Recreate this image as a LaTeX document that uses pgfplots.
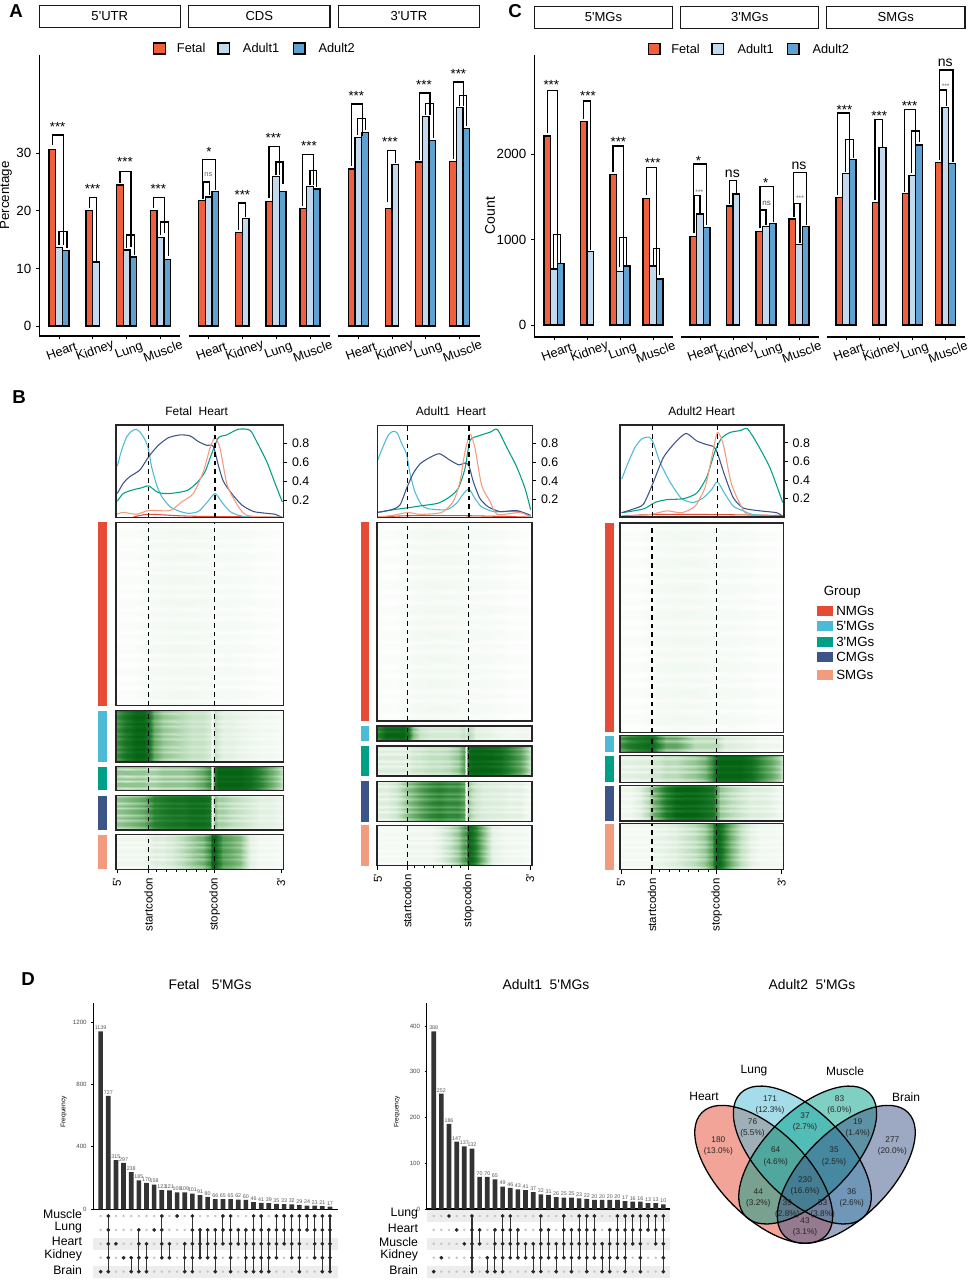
\documentclass[border=0pt]{standalone}
\usepackage{fontspec}
\setmainfont{Liberation Sans}[Ligatures=TeXOff]
\usepackage{pgfplots}
\pgfplotsset{compat=1.18}

\definecolor{fetal}{HTML}{F0603C}
\definecolor{adulta}{HTML}{C3D9EE}
\definecolor{adultb}{HTML}{5FA2D2}
\definecolor{nmg}{HTML}{E64B35}
\definecolor{fivem}{HTML}{4DBBD5}
\definecolor{threem}{HTML}{00A087}
\definecolor{cmg}{HTML}{3C5488}
\definecolor{smg}{HTML}{F39B7F}

\newcommand\fs[1]{\fontsize{#1}{#1}\selectfont}

% axis box given in pixels of the reference: left, top, right, bottom
\newcommand\place[4]{%
  \pgfmathsetlengthmacro\Pw{(#3-#1)*0.75}%
  \pgfmathsetlengthmacro\Ph{(#4-#2)*0.75}%
  \pgfmathsetlengthmacro\Px{#1*0.75}%
  \pgfmathsetlengthmacro\Py{-#4*0.75}%
}
\pgfplotsset{
  here/.style={at={(\Px,\Py)},anchor=south west,scale only axis,width=\Pw,height=\Ph},
  colormap={wg}{rgb255=(255,255,255) rgb255=(190,222,190) rgb255=(110,175,110) rgb255=(40,130,50) rgb255=(5,100,20)},
  barax/.style={here,clip=false,axis x line*=bottom,axis line style={-,line width=.9pt},
    x axis line style={-},y axis line style={-},
    tick align=outside,major tick length=2.5pt,tick style={black,line width=.7pt},
    xticklabels={Heart,Kidney,Lung,Muscle},
    x tick label style={rotate=20,anchor=center,yshift=-9pt,xshift=-1.2pt,font=\fs{9.6}},
    y tick label style={font=\fs{10}},
    /pgf/number format/assume math mode=true,/pgf/number format/1000 sep={}},
  fb/.style={ybar,bar shift=0pt,bar width=20,draw=black,line width=1pt,fill=fetal},
  ab/.style={ybar,bar shift=0pt,bar width=20,draw=black,line width=1pt,fill=adulta},
  bb/.style={ybar,bar shift=0pt,bar width=20,draw=black,line width=1pt,fill=adultb},
  brk/.style={black,line width=1pt,mark=none,line join=miter},
  curve/.style={line width=.8pt,mark=none,smooth,tension=.4},
  cod/.style={black,line width=1pt,dash pattern=on 3.5pt off 3pt},
  lineax/.style={here,axis on top,tick align=outside,ytick pos=right,yticklabel pos=right,
    xtick=\empty,ytick={.2,.4,.6,.8},major tick length=3pt,tick style={black,line width=.7pt},
    axis line style={line width=.9pt,black!85},
    y tick label style={font=\fs{9.3}},
    /pgf/number format/assume math mode=true,/pgf/number format/fixed,/pgf/number format/precision=1,/pgf/number format/fixed zerofill},
  heatax/.style={here,axis on top,xmin=0,xmax=1,ymin=0,ymax=1,xtick=\empty,ytick=\empty,
    axis line style={line width=.9pt,black!85},colormap name=wg,point meta min=0,point meta max=9},
  upbar/.style={here,clip=false,axis x line*=bottom,axis y line*=left,axis line style={-,line width=1pt},
    xtick=\empty,tick align=outside,major tick length=1.5pt,tick style={black,line width=.6pt},
    y tick label style={font=\fs{4.6},color=black!70},
    ylabel=Frequency,ylabel style={font=\fs{5}},
    /pgf/number format/assume math mode=true,/pgf/number format/1000 sep={}},
  upset/.style={ybar,bar shift=0pt,bar width=.61,fill=black!80,draw=none,
    nodes near coords,every node near coord/.append style={font=\fs{4},color=black!65,inner sep=1pt}},
  upmat/.style={here,clip=false,axis line style={draw=none},tick style={draw=none},xtick=\empty,
    ytick={1,2,3,4,5},ymin=.47,ymax=5.43,y tick label style={font=\fs{9.2},yshift=1.5pt}},
}

% columns of the heat maps, as fractions of the gene body
\def\hx{0,.06,.12,.17,.2,.23,.28,.34,.4,.46,.52,.56,.575,.59,.61,.64,.68,.74,.8,.86,.92,.97,1}
% heat map: two typed row profiles that take turns over #3 rows
\newcommand\heat[3]{%
  \gdef\hc{}%
  \foreach \x [count=\i from 0] in \hx {%
    \foreach \j in {0,...,#3} {%
      \pgfmathtruncatemacro\mm{mod(\j,5)}%
      \ifnum\mm=1 \pgfmathparse{{#2}[\i]}\else\ifnum\mm=4 \pgfmathparse{{#2}[\i]}\else\pgfmathparse{{#1}[\i]}\fi\fi
      \edef\vv{\pgfmathresult}%
      \pgfmathsetmacro\yy{\j/#3}%
      \xdef\hc{\hc (\x,\yy) [\vv]}%
    }%
  }%
  \pgfmathtruncatemacro\nr{#3+1}%
  \edef\tmp{\noexpand\addplot[surf,shader=interp,mesh/rows=\nr,mesh/cols=23,mesh/ordering=y varies,mesh/check=false,point meta=explicit] coordinates {\hc};}\tmp
}
\newcommand\heatpanel[8][]{%
  \place{#2}{#3}{#4}{#5}%
  \begin{axis}[heatax,#1]
    \heat{#7}{#8}{#6}
    \addplot[cod] coordinates {(.195,0) (.195,1)};
    \addplot[cod] coordinates {(.59,0) (.59,1)};
  \end{axis}%
}
\def\nmga{.2,.2,.2,.3,.3,.4,.4,.45,.45,.45,.4,.35,.3,.3,.35,.35,.35,.3,.3,.2,.2,.15,.05}
\def\nmgb{.05,.05,.05,.1,.1,.2,.2,.25,.2,.2,.2,.2,.1,.1,.15,.15,.2,.15,.1,.05,.05,.05,0}
\pgfplotsset{heatticks/.style={xtick={.006,.195,.59,.988},xticklabels={5',startcodon,stopcodon,3'},
  minor xtick={.243,.303,.363,.42,.48,.54},tick align=outside,xtick pos=bottom,major tick length=3pt,minor tick length=2pt,
  tick style={black,line width=.7pt},x tick label style={rotate=90,anchor=east,font=\fs{8.6},yshift=0pt}}}

% upset matrix: column/lowest row/highest row
\newcommand\upsetbody[1]{%
  \gdef\uG{}\gdef\uL{}\gdef\uD{}%
  \foreach \c in {1,...,31}{\foreach \r in {1,...,5}{\xdef\uG{\uG (\c,\r)}}}%
  \foreach \c/\a/\b in {#1}{%
    \xdef\uL{\uL (\c,\a) (\c,\b) (\c,nan)}%
    \foreach \r in {\a,...,\b}{\xdef\uD{\uD (\c,\r)}}%
  }%
  \edef\tmp{\noexpand\addplot[only marks,mark=*,mark size=.75pt,color=black!22] coordinates {\uG};}\tmp
  \edef\tmp{\noexpand\addplot[black!80,line width=.8pt,unbounded coords=jump] coordinates {\uL};}\tmp
  \edef\tmp{\noexpand\addplot[only marks,mark=*,mark size=1.2pt,color=black!85] coordinates {\uD};}\tmp
}

\begin{document}
\begin{tikzpicture}
\path[use as bounding box,fill=white] (0,0) rectangle (726.75pt,-960pt);

%%%%%%%%%%%% panel A
\place{39.3}{55}{180.3}{336}
\begin{axis}[barax,axis y line*=left,xmin=118,xmax=541,ymin=-1.74,ymax=47.1,xtick={177,278,380,481},ytick={0,10,20,30},
  ylabel=Percentage,ylabel style={font=\fs{10},at={(axis description cs:-.236,.5)},anchor=center}]
\addplot[fb] coordinates {(157,30.7) (268,20.1) (360,24.5) (461,20.1)};
\addplot[ab] coordinates {(177,13.6) (288,11.1) (380,13.2) (482,15.4)};
\addplot[bb] coordinates {(197,13.1) (400,12) (502,11.6)};
\addplot[brk] coordinates {(157,31.5) (157,33.2) (190,33.2) (190,14.1)};
\addplot[brk] coordinates {(177,14.1) (177,16.4) (201,16.4) (201,13.5)};
\addplot[brk] coordinates {(268,20.5) (268,22.3) (290,22.3) (290,11.2)};
\addplot[brk] coordinates {(360,24.9) (360,26.8) (393,26.8) (393,13.8)};
\addplot[brk] coordinates {(380,13.5) (380,15.8) (404,15.8) (404,12.3)};
\addplot[brk] coordinates {(460,20.5) (460,22.3) (494,22.3) (494,16.1)};
\addplot[brk] coordinates {(482,15.8) (482,18.1) (505,18.1) (505,12.1)};
\node[font=\fs{10},yshift=-2pt] at (axis cs:173,35.1) {***};
\node[font=\fs{10},yshift=-2pt] at (axis cs:278,24.3) {***};
\node[font=\fs{10},yshift=-2pt] at (axis cs:375,28.9) {***};
\node[font=\fs{10},yshift=-2pt] at (axis cs:475,24.3) {***};
\end{axis}

\place{188.7}{55}{330}{336}
\begin{axis}[barax,axis y line=none,xmin=566,xmax=990,ymin=-1.74,ymax=47.1,xtick={626,727,828,930}]
\addplot[fb] coordinates {(606,21.8) (717,16.3) (808,21.6) (910,20.4)};
\addplot[ab] coordinates {(626,22.4) (737,18.7) (828,26) (930,24.3)};
\addplot[bb] coordinates {(646,23.4) (848,23.4) (950,23.8)};
\addplot[brk] coordinates {(607,22.2) (607,28.9) (647,28.9) (647,23.7)};
\addplot[brk] coordinates {(609,22.1) (609,25) (628,25) (628,22.8)};
\addplot[brk] coordinates {(716,16.7) (716,21.4) (737,21.4) (737,19)};
\addplot[brk] coordinates {(807,22.2) (807,31.2) (838,31.2) (838,26.3)};
\addplot[brk] coordinates {(828,26.3) (828,28.5) (849,28.5) (849,24.7)};
\addplot[brk] coordinates {(908,20.9) (908,29.8) (940,29.8) (940,24.5)};
\addplot[brk] coordinates {(930,24.5) (930,27) (950,27) (950,24.1)};
\node[font=\fs{10},yshift=-2pt] at (axis cs:627,30.8) {*};
\node[font=\fs{5.5},color=black!60] at (axis cs:625,26.4) {ns};
\node[font=\fs{10},yshift=-2pt] at (axis cs:727,23.2) {***};
\node[font=\fs{10},yshift=-2pt] at (axis cs:820,33.2) {***};
\node[font=\fs{10},yshift=-2pt] at (axis cs:927,31.8) {***};
\end{axis}

\place{338.3}{55}{479.7}{336}
\begin{axis}[barax,axis y line=none,xmin=1015,xmax=1439,ymin=-1.74,ymax=47.1,xtick={1075,1176,1277,1379}]
\addplot[fb] coordinates {(1055,27.3) (1166,20.4) (1257,28.5) (1359,28.6)};
\addplot[ab] coordinates {(1075,32.8) (1186,28.1) (1277,36.4) (1379,38)};
\addplot[bb] coordinates {(1095,33.6) (1297,32.2) (1399,34.3)};
\addplot[brk] coordinates {(1055,27.8) (1055,38.6) (1087,38.6) (1087,33)};
\addplot[brk] coordinates {(1073,33.2) (1073,36.1) (1097,36.1) (1097,34)};
\addplot[brk] coordinates {(1162,21.6) (1162,30.5) (1186,30.5) (1186,28.3)};
\addplot[brk] coordinates {(1258,28.9) (1258,40.5) (1290,40.5) (1290,36.7)};
\addplot[brk] coordinates {(1277,36.7) (1277,38.7) (1300,38.7) (1300,32.6)};
\addplot[brk] coordinates {(1360,29) (1360,42.4) (1390,42.4) (1390,38.3)};
\addplot[brk] coordinates {(1378,38.3) (1378,40.1) (1400,40.1) (1400,34.7)};
\node[font=\fs{10},yshift=-2pt] at (axis cs:1069,40.5) {***};
\node[font=\fs{10},yshift=-2pt] at (axis cs:1170,32.5) {***};
\node[font=\fs{10},yshift=-2pt] at (axis cs:1272,42.3) {***};
\node[font=\fs{10},yshift=-2pt] at (axis cs:1375,44.3) {***};
\end{axis}

%%%%%%%%%%%% panel C
\place{534.3}{55}{672.7}{337}
\begin{axis}[barax,axis y line*=left,xmin=163,xmax=578,ymin=-141,ymax=3164,xtick={222,321,420,519},ytick={0,1000,2000},
  ylabel=Count,ylabel style={font=\fs{10.5},at={(axis description cs:-.32,.43)},anchor=center}]
\addplot[fb] coordinates {(202,2215) (311,2383) (400,1762) (499,1480)};
\addplot[ab] coordinates {(222,656) (331,863) (420,625) (519,691)};
\addplot[bb] coordinates {(242,719) (440,691) (539,539)};
\addplot[brk] coordinates {(202,2246) (202,2750) (232,2750) (232,664)};
\addplot[brk] coordinates {(220,664) (220,1062) (242,1062) (242,723)};
\addplot[brk] coordinates {(311,2410) (311,2625) (332,2625) (332,879)};
\addplot[brk] coordinates {(399,1797) (399,2098) (430,2098) (430,684)};
\addplot[brk] coordinates {(418,684) (418,1027) (440,1027) (440,703)};
\addplot[brk] coordinates {(499,1523) (499,1848) (530,1848) (530,703)};
\addplot[brk] coordinates {(520,703) (520,894) (539,894) (539,586)};
\node[font=\fs{10},yshift=-2pt] at (axis cs:214,2840) {***};
\node[font=\fs{10},yshift=-2pt] at (axis cs:324,2715) {***};
\node[font=\fs{10},yshift=-2pt] at (axis cs:415,2180) {***};
\node[font=\fs{10},yshift=-2pt] at (axis cs:518,1934) {***};
\end{axis}

\place{680.7}{55}{818.7}{337}
\begin{axis}[barax,axis y line=none,xmin=602,xmax=1016,ymin=-141,ymax=3164,xtick={660,759,858,957}]
\addplot[fb] coordinates {(640,1035) (749,1394) (838,1094) (937,1242)};
\addplot[ab] coordinates {(660,1301) (769,1535) (858,1152) (957,941)};
\addplot[bb] coordinates {(680,1144) (878,1191) (977,1152)};
\addplot[brk] coordinates {(640,1074) (640,1887) (680,1887) (680,1172)};
\addplot[brk] coordinates {(642,1074) (642,1519) (660,1519) (660,1316)};
\addplot[brk] coordinates {(749,1418) (749,1695) (769,1695) (769,1551)};
\addplot[brk] coordinates {(840,1133) (840,1621) (880,1621) (880,1211)};
\addplot[brk] coordinates {(842,1133) (842,1348) (858,1348) (858,1172)};
\addplot[brk] coordinates {(940,1269) (940,1785) (980,1785) (980,1172)};
\addplot[brk] coordinates {(942,1269) (942,1426) (960,1426) (960,957)};
\node[font=\fs{10},yshift=-2pt] at (axis cs:655,1953) {*};
\node[font=\fs{5},color=black!60,yshift=-1pt] at (axis cs:658,1570) {***};
\node[font=\fs{10.5}] at (axis cs:757,1773) {ns};
\node[font=\fs{10},yshift=-2pt] at (axis cs:857,1691) {*};
\node[font=\fs{6},color=black!70] at (axis cs:860,1426) {ns};
\node[font=\fs{10.5}] at (axis cs:957,1867) {ns};
\node[font=\fs{5},color=black!60,yshift=-1pt] at (axis cs:960,1504) {***};
\end{axis}

\place{826.7}{55}{965}{337}
\begin{axis}[barax,axis y line=none,xmin=1040,xmax=1454,ymin=-141,ymax=3164,xtick={1098,1197,1296,1395}]
\addplot[fb] coordinates {(1078,1496) (1187,1437) (1276,1539) (1375,1902)};
\addplot[ab] coordinates {(1098,1777) (1207,2078) (1296,1754) (1395,2547)};
\addplot[bb] coordinates {(1118,1941) (1316,2109) (1415,1890)};
\addplot[brk] coordinates {(1073,1523) (1073,2484) (1108,2484) (1108,1797)};
\addplot[brk] coordinates {(1097,1797) (1097,2176) (1120,2176) (1120,1953)};
\addplot[brk] coordinates {(1185,1465) (1185,2410) (1207,2410) (1207,2090)};
\addplot[brk] coordinates {(1273,1562) (1273,2527) (1305,2527) (1305,1777)};
\addplot[brk] coordinates {(1293,1777) (1293,2273) (1317,2273) (1317,2148)};
\addplot[brk] coordinates {(1377,1934) (1377,2988) (1418,2988) (1418,1914)};
\addplot[brk] coordinates {(1378,1934) (1378,2754) (1398,2754) (1398,2566)};
\node[font=\fs{10},yshift=-2pt] at (axis cs:1093,2551) {***};
\node[font=\fs{10},yshift=-2pt] at (axis cs:1197,2480) {***};
\node[font=\fs{10},yshift=-2pt] at (axis cs:1288,2598) {***};
\node[font=\fs{10.5}] at (axis cs:1395,3074) {ns};
\node[font=\fs{5},color=black!60,yshift=-1pt] at (axis cs:1396,2812) {***};
\end{axis}

%%%%%%%%%%%% panel B, profile lines
\place{116}{425}{283.3}{517.3}
\begin{axis}[lineax,xmin=78,xmax=580,ymin=.018,ymax=.995]
\addplot[curve,nmg] coordinates {(130,.02) (176,.05) (300,.03) (570,.02)};
\addplot[curve,fivem] coordinates {(82,.56) (95,.73) (110,.87) (125,.93) (138,.95) (150,.92) (165,.84) (176,.73) (185,.55) (200,.36) (215,.24) (240,.13) (270,.08) (297,.06) (325,.08) (350,.17) (375,.27) (395,.18) (420,.08) (445,.04) (480,.02) (570,.02)};
\addplot[curve,threem] coordinates {(82,.19) (100,.27) (130,.31) (155,.33) (176,.35) (205,.28) (240,.27) (290,.30) (320,.38) (345,.50) (365,.69) (385,.86) (410,.89) (445,.95) (480,.94) (500,.82) (530,.61) (555,.38) (577,.18)};
\addplot[curve,cmg] coordinates {(82,.27) (100,.38) (120,.45) (150,.52) (176,.66) (205,.78) (235,.86) (270,.89) (300,.88) (325,.82) (350,.78) (370,.77) (385,.57) (400,.40) (425,.27) (455,.15) (490,.08) (530,.06) (555,.05) (575,.02)};
\addplot[curve,smg] coordinates {(80,.05) (100,.07) (140,.05) (176,.09) (240,.09) (275,.18) (310,.27) (340,.50) (360,.75) (375,.86) (390,.75) (410,.38) (430,.22) (470,.04) (575,.02)};
\addplot[cod] coordinates {(176,.018) (176,.995)};
\addplot[cod] coordinates {(375,.018) (375,.995)};
\end{axis}

\place{377.3}{425.7}{532.3}{517.7}
\begin{axis}[lineax,xmin=52,xmax=517,ymin=.004,ymax=.99]
\addplot[curve,nmg] coordinates {(52,.01) (143,.025) (327,.025) (512,.01)};
\addplot[curve,fivem] coordinates {(52,.61) (65,.73) (85,.89) (100,.93) (112,.91) (125,.80) (140,.68) (150,.48) (165,.28) (185,.14) (205,.10) (260,.09) (290,.16) (310,.26) (327,.31) (345,.21) (365,.12) (400,.07) (440,.07) (480,.07) (512,.01)};
\addplot[curve,threem] coordinates {(52,.06) (100,.09) (143,.11) (180,.13) (235,.16) (270,.23) (295,.32) (315,.53) (330,.83) (355,.88) (390,.92) (412,.95) (440,.76) (470,.55) (495,.32) (512,.09)};
\addplot[curve,cmg] coordinates {(52,.06) (95,.09) (120,.14) (140,.32) (160,.48) (180,.58) (205,.64) (238,.69) (270,.62) (297,.57) (315,.59) (327,.56) (340,.39) (360,.21) (385,.12) (420,.07) (470,.08) (512,.03)};
\addplot[curve,smg] coordinates {(52,.01) (100,.03) (143,.06) (180,.04) (245,.06) (280,.18) (300,.39) (315,.71) (330,.90) (345,.75) (365,.35) (390,.18) (412,.04) (480,.06) (512,.01)};
\addplot[cod] coordinates {(143,.004) (143,.99)};
\addplot[cod] coordinates {(327,.004) (327,.99)};
\end{axis}

\place{620}{425}{784}{517}
\begin{axis}[lineax,xmin=60,xmax=552,ymin=.004,ymax=.99]
\addplot[curve,nmg] coordinates {(65,.015) (157,.03) (352,.03) (548,.02)};
\addplot[curve,fivem] coordinates {(65,.41) (85,.59) (105,.75) (125,.84) (147,.86) (160,.80) (180,.59) (210,.38) (245,.20) (280,.16) (310,.21) (335,.30) (352,.38) (375,.25) (400,.12) (430,.07) (460,.03) (545,.01)};
\addplot[curve,threem] coordinates {(65,.05) (130,.09) (165,.16) (200,.19) (250,.20) (290,.26) (320,.43) (345,.71) (365,.85) (390,.91) (420,.93) (442,.95) (470,.80) (510,.53) (548,.16)};
\addplot[curve,cmg] coordinates {(65,.05) (100,.09) (130,.14) (157,.35) (190,.64) (225,.80) (258,.90) (290,.82) (320,.78) (340,.76) (352,.69) (375,.44) (400,.21) (430,.10) (480,.07) (530,.05) (548,.01)};
\addplot[curve,smg] coordinates {(65,.01) (150,.03) (200,.07) (245,.05) (285,.12) (315,.32) (335,.64) (352,.91) (370,.78) (395,.35) (435,.05) (470,.01) (548,.01)};
\addplot[cod] coordinates {(157,.004) (157,.99)};
\addplot[cod] coordinates {(352,.004) (352,.99)};
\end{axis}

%%%%%%%%%%%% panel B, heat maps
% Fetal
\heatpanel{116}{522.3}{283.3}{705.7}{40}{\nmga}{\nmgb}
\heatpanel{116}{710.7}{283.3}{762}{20}
 {6,8,9,9,8,5,3.5,3,2.5,2,2,1.5,.5,2,1.5,1,1,.8,.6,.5,.5,.4,.3}
 {5,7,8.5,8.5,7,4,2.5,2,2,1.5,1.5,1,.3,1.5,1,.7,.7,.5,.4,.3,.3,.2,.2}
\heatpanel{116}{766.7}{283.3}{790.3}{10}
 {3.5,3.5,3.5,3.5,3,3,3.5,3.5,3.5,4,5,6.5,.3,8,9,9,9,9,8.5,7,5,3.5,2}
 {2,1.5,2,2,1.5,1.5,2,2,2,2.5,3.5,5,.3,7,8.5,8.5,8.5,8.5,8,6,4,2.5,1.5}
\heatpanel{116}{795.7}{283.3}{830}{14}
 {3.5,4,4.5,5,6,7,7.5,8,8,8.5,8.5,8,.5,4,3,3,2.5,2,1.5,1,1,.8,.5}
 {2,2.5,3,3.5,4.5,6,6.5,7,7,7.5,7.5,7,.5,3,2,2,1.5,1.2,1,.7,.7,.5,.3}
\heatpanel[heatticks]{116}{834.7}{283.3}{869.3}{14}
 {.6,.6,.6,.6,.8,1.2,1.2,1.6,2.5,3.5,4.5,6.5,9,9,7.5,5.5,5,4,1,.5,.5,.4,.3}
 {.3,.3,.3,.3,.5,.6,.6,1,1.5,2.5,3,5,8,8,6.5,4.5,4,3,.7,.3,.3,.2,.2}
% Adult1
\heatpanel{377}{522.3}{532}{721}{40}{\nmga}{\nmgb}
\heatpanel{377}{726}{532}{741}{6}
 {7,9,9,9,8,4,2,1.5,1.5,1.5,1.5,2,1.5,2.5,2,1,1,.8,.6,.5,.6,.6,.3}
 {5.5,8,8,8.5,7,3,1.5,1,1,1,1,1.5,.8,2,1.5,.7,.7,.5,.4,.3,.4,.4,.2}
\heatpanel{377}{746}{532}{776}{12}
 {1.2,1.2,1.2,1.2,1.2,1.7,1.8,2.2,2.2,2.5,3.5,5.5,.5,8.5,9,9,9,9,8.5,7,5.5,3.5,1.5}
 {.6,.6,.6,.6,.6,1,1,1.4,1.4,1.6,2.5,4.5,.5,7.5,8.5,8.5,8.5,8,7.5,6,4.5,2.5,1}
\heatpanel{377}{781.3}{532}{821.7}{16}
 {1.2,1.2,1.8,3,4,4.5,5.5,6.5,7,6.5,6.5,5.5,.4,3.5,2.5,1.8,1.4,1.2,1.2,1,1,.6,.3}
 {.6,.6,1,1.8,2.5,3.2,4,5,5.5,5,5,4.2,.4,2.5,1.5,1.2,.9,.8,.7,.5,.5,.3,.2}
\heatpanel[heatticks]{377}{825.3}{532}{865.7}{16}
 {.4,.4,.4,.4,.6,.6,.6,.6,1,2,3.5,5.5,6,9,8.5,7,4.5,1,.7,.5,.5,.4,.2}
 {.2,.2,.2,.2,.3,.3,.3,.3,.5,1,2.5,4.5,4,8.5,7.5,6,3.5,.7,.4,.3,.3,.2,.1}
% Adult2
\heatpanel{620}{523}{783.7}{732.3}{40}{\nmga}{\nmgb}
\heatpanel{620}{735.7}{783.7}{752.3}{6}
 {6,7.5,8,8.5,8.5,7,5,5,4,2.5,2.5,2.5,2.5,2.5,2,1.2,1.2,1,.8,.6,.6,.5,.2}
 {4.5,6,7,7.5,7.5,5,3,3,2.2,1.5,1.5,1.5,1.5,1.5,1,.7,.7,.5,.5,.3,.3,.2,.1}
\heatpanel{620}{755.7}{783.7}{782.3}{10}
 {1,1,1.2,1.2,1.8,1.8,2.4,2.4,3,3.5,4.5,6.5,7.5,9,9,9,9,9,8.5,6.5,5,3.5,1.2}
 {.5,.5,.6,.6,1,1,1.4,1.4,1.8,2.2,3.2,5.5,6.5,8,8.5,8.5,8.5,8.5,7.5,5.5,4,2.5,.8}
\heatpanel{620}{785.7}{783.7}{821}{14}
 {.6,.6,1.2,2.5,4.5,5.5,7.5,9,9,9,8.5,8,7.5,5.5,3.5,3,2.5,1.8,1.2,1.2,1,.6,.3}
 {.3,.3,.6,1.4,3,4,6,7.5,8,8,7.5,7,6.5,4.5,2.5,2,1.5,1,.7,.7,.5,.3,.2}
\heatpanel[heatticks]{620}{823.7}{783.7}{869.7}{18}
 {.4,.4,.4,.4,.8,.8,1,1.2,1.8,2.4,3.5,5.5,7.5,9,8.5,6.5,4.5,2.2,.9,.5,.5,.4,.2}
 {.2,.2,.2,.2,.4,.4,.5,.7,1,1.4,2.5,4.5,6.5,8.5,7.5,5.5,3.5,1.5,.5,.3,.3,.2,.1}

%%%%%%%%%%%% panel D, upset plots
\place{93.3}{1003}{338.3}{1209.3}
\begin{axis}[upbar,xmin=.04,xmax=32.09,ymin=0,ymax=1321,ytick={0,400,800,1200},
  every axis y label/.append style={at={(axis description cs:-.121,.473)},anchor=center}]
\addplot[upset] coordinates {(1,1139) (2,727) (3,315) (4,297) (5,238) (6,185) (7,170) (8,158) (9,123) (10,121) (11,109) (12,109) (13,101) (14,91) (15,80) (16,66) (17,65) (18,65) (19,62) (20,60) (21,46) (22,41) (23,39) (24,35) (25,33) (26,32) (27,29) (28,24) (29,23) (30,21) (31,17)};
\end{axis}
\place{93.3}{1210}{338.3}{1279}
\begin{axis}[upmat,xmin=.04,xmax=32.09,yticklabels={Brain,Kidney,Heart,Lung,Muscle},y tick label style={xshift=-5pt}]
\addplot[fill=black!7,draw=none] coordinates {(.04,.57) (32.09,.57) (32.09,1.43) (.04,1.43)} -- cycle;
\addplot[fill=black!7,draw=none] coordinates {(.04,2.57) (32.09,2.57) (32.09,3.43) (.04,3.43)} -- cycle;
\upsetbody{1/1/1,2/1/5,3/3/3,4/2/2,5/1/2,6/1/4,7/1/3,8/4/4,9/2/5,10/2/3,11/5/5,12/1/3,13/1/5,14/2/4,15/2/4,16/1/4,17/3/5,18/1/5,19/3/4,20/1/4,21/1/5,22/1/5,23/1/4,24/2/5,25/3/5,26/2/5,27/1/5,28/4/5,29/2/5,30/1/5,31/1/5}
\end{axis}

\place{426.7}{1003}{670}{1209}
\begin{axis}[upbar,xmin=.086,xmax=31.87,ymin=0,ymax=450,ytick={0,100,200,300,400},
  every axis y label/.append style={at={(axis description cs:-.122,.473)},anchor=center}]
\addplot[upset] coordinates {(1,388) (2,252) (3,186) (4,147) (5,137) (6,132) (7,70) (8,70) (9,65) (10,49) (11,46) (12,43) (13,41) (14,37) (15,32) (16,31) (17,26) (18,25) (19,25) (20,23) (21,22) (22,20) (23,20) (24,20) (25,20) (26,17) (27,16) (28,16) (29,13) (30,13) (31,10)};
\end{axis}
\place{426.7}{1210}{670}{1279}
\begin{axis}[upmat,xmin=.086,xmax=31.87,yticklabels={Brain,Kidney,Muscle,Heart,Lung},y tick label style={xshift=-3pt}]
\addplot[fill=black!7,draw=none] coordinates {(.086,.57) (31.87,.57) (31.87,1.43) (.086,1.43)} -- cycle;
\addplot[fill=black!7,draw=none] coordinates {(.086,2.57) (31.87,2.57) (31.87,3.43) (.086,3.43)} -- cycle;
\addplot[fill=black!7,draw=none] coordinates {(.086,4.57) (31.87,4.57) (31.87,5.43) (.086,5.43)} -- cycle;
\upsetbody{1/1/1,2/2/2,3/5/5,4/4/4,5/3/3,6/1/5,7/3/4,8/1/2,9/1/4,10/1/5,11/2/5,12/2/4,13/2/3,14/1/3,15/1/5,16/2/4,17/1/3,18/2/5,19/1/4,20/2/5,21/1/5,22/2/5,23/1/3,24/1/4,25/2/5,26/1/5,27/3/5,28/1/5,29/4/5,30/3/5,31/1/5}
\end{axis}

%%%%%%%%%%%% everything typed in reference pixels
\begin{scope}[x=.75pt,y=-.75pt]
% panel letters
\foreach \t/\xx/\yy in {A/16/11,C/515/11,B/19/397,D/28/979}
  \node[font=\fs{14}\bfseries] at (\xx,\yy) {\t};
% strips
\foreach \t/\l/\r in {5'UTR/39.3/180.3,CDS/188.7/330,3'UTR/338.3/479.7}
  \draw[line width=.9pt,black!90] (\l,5.3) rectangle node[font=\fs{9.8},black] {\t} (\r,27.3);
\foreach \t/\l/\r in {5'MGs/534.3/672.7,3'MGs/680.7/818.7,SMGs/826.7/965}
  \draw[line width=.9pt,black!90] (\l,6.7) rectangle node[font=\fs{9.8},black] {\t} (\r,28.3);
% bar legends
\foreach \c/\l/\t/\tx in {fetal/153.7/Fetal/176.7,adulta/218/Adult1/242.7,adultb/293.3/Adult2/318.3}{
  \draw[fill=\c,line width=.9pt] (\l,43) rectangle ++(11.6,11);
  \node[font=\fs{9.6},anchor=west,inner sep=0pt] at (\tx,47.5) {\t};
}
\foreach \c/\l/\t/\tx in {fetal/648.3/Fetal/671,adulta/712/Adult1/737.3,adultb/787.3/Adult2/812.3}{
  \draw[fill=\c,line width=.9pt] (\l,43.5) rectangle ++(11.6,11);
  \node[font=\fs{9.6},anchor=west,inner sep=0pt] at (\tx,48.5) {\t};
}
% titles of B and D
\node[font=\fs{9}] at (196.7,411) {Fetal\ \ Heart};
\node[font=\fs{9}] at (451,411) {Adult1\ \ Heart};
\node[font=\fs{9}] at (701.7,411) {Adult2 Heart};
\node[font=\fs{10.4}] at (210,985) {Fetal\hspace{.9em}5'MGs};
\node[font=\fs{10.4}] at (546,985) {Adult1\ \ 5'MGs};
\node[font=\fs{10.4}] at (812,985) {Adult2\ \ 5'MGs};
% group side bars
\foreach \l/\r/\a/\b/\c/\d/\e/\f/\g/\h/\i/\j in {97.7/106.7/522.3/705.7/710.7/762/766.7/790.3/795.7/830/834.7/869.3,
   360.7/369/522.3/721/726/741/746/776/781.3/821.7/825.3/865.7,
   605.3/614/523/732.3/735.7/752.3/755.7/782.3/785.7/821/823.7/869.7}{
  \fill[nmg] (\l,\a) rectangle (\r,\b);
  \fill[fivem] (\l,\c) rectangle (\r,\d);
  \fill[threem] (\l,\e) rectangle (\r,\f);
  \fill[cmg] (\l,\g) rectangle (\r,\h);
  \fill[smg] (\l,\i) rectangle (\r,\j);
}
% group legend
\node[font=\fs{10}] at (842.3,592.7) {Group};
\foreach \c/\t/\a/\m in {nmg/NMGs/605.7/611,fivem/5'MGs/620.7/625.7,threem/3'MGs/637.3/642,cmg/CMGs/652.3/657.3,smg/SMGs/670.3/675}{
  \fill[\c] (816.7,\a) rectangle ++(16.6,10);
  \node[font=\fs{10},anchor=west,inner sep=0pt] at (836,\m) {\t};
}
% venn
\foreach \c/\xx/\yy/\r in {nmg/763.7/1174.3/-45,fivem/802.3/1155/-45,threem/807.7/1155/45,cmg/846.3/1174.3/45}
  \fill[\c,fill opacity=.5,rotate around={\r:(\xx,\yy)}] (\xx,\yy) ellipse [x radius=65.5pt,y radius=32.5pt];
\foreach \xx/\yy/\r in {763.7/1174.3/-45,802.3/1155/-45,807.7/1155/45,846.3/1174.3/45}
  \draw[black,line width=.95pt,rotate around={\r:(\xx,\yy)}] (\xx,\yy) ellipse [x radius=65.5pt,y radius=32.5pt];
\foreach \t/\xx/\yy in {Heart/704/1096.7,Lung/754/1071,Muscle/845/1071,Brain/906/1096.7}
  \node[font=\fs{9}] at (\xx,\yy) {\t};
\foreach \n/\p/\xx/\yy in {171/12.3/770/1099,83/6.0/839.5/1099,180/13.0/718.3/1140,76/5.5/752.5/1122.3,37/2.7/805/1116,19/1.4/857.7/1122.3,277/20.0/892.3/1140,64/4.6/775.7/1150.7,35/2.5/834/1150.7,230/16.6/805/1180,44/3.2/758.3/1192.3,36/2.6/851.7/1192.3,39/2.8/787.3/1203.3,53/3.8/822.7/1203.3,43/3.1/805/1221}{
  \node[font=\fs{6.2},color=black!85,align=center,inner sep=0pt,yshift=-4.4pt] at (\xx,\yy) {\n\\[2.3pt](\p\%)};
}
\end{scope}
\end{tikzpicture}
\end{document}
